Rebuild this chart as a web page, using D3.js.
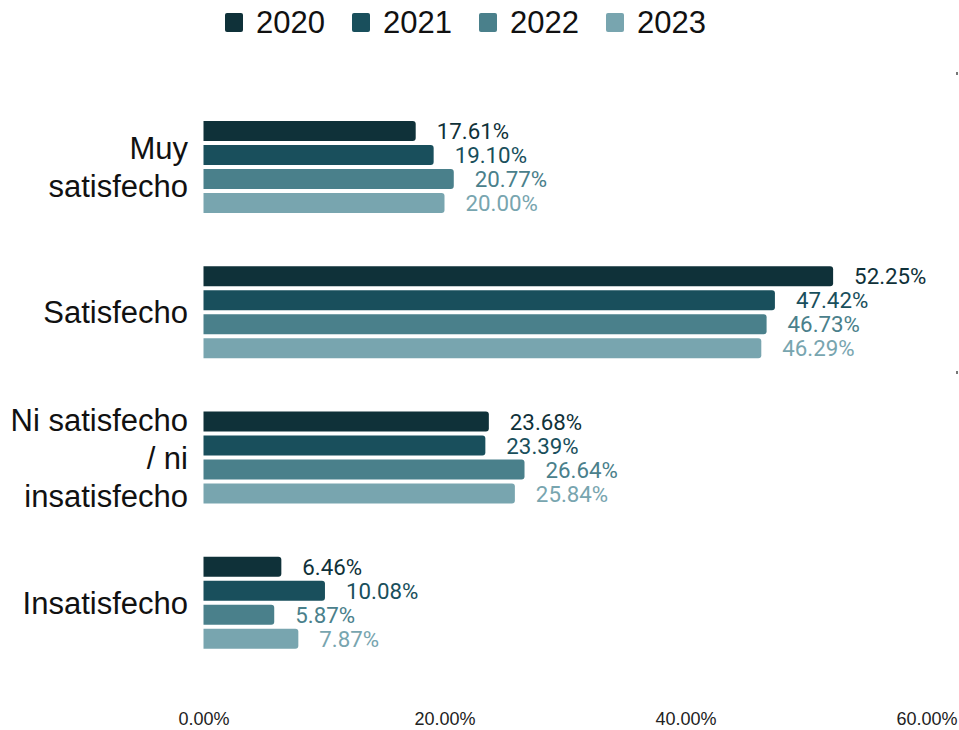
<!DOCTYPE html>
<html>
<head>
<meta charset="utf-8">
<script src="https://cdn.jsdelivr.net/npm/d3@7"></script>
<style>
  html, body { margin: 0; padding: 0; background: #fff; }
  svg { display: block; }
</style>
</head>
<body>
<svg id="chart" width="959" height="730"></svg>
<script>
const categories = ["Muy satisfecho", "Satisfecho", "Ni satisfecho / ni insatisfecho", "Insatisfecho"];
const categoryLines = [["Muy", "satisfecho"], ["Satisfecho"], ["Ni satisfecho", "/ ni", "insatisfecho"], ["Insatisfecho"]];
const years = ["2020", "2021", "2022", "2023"];
const values2020 = [17.61, 52.25, 23.68, 6.46];
const values2021 = [19.10, 47.42, 23.39, 10.08];
const values2022 = [20.77, 46.73, 26.64, 5.87];
const values2023 = [20.00, 46.29, 25.84, 7.87];
const tickValues = [0, 20, 40, 60];
const tickLabels = ["0.00%", "20.00%", "40.00%", "60.00%"];
const colors = ["#0f3139", "#194f5c", "#4a808b", "#78a5af"];

const seriesValues = [values2020, values2021, values2022, values2023];
const data = categories.map((c, i) => ({
  category: c,
  lines: categoryLines[i],
  values: years.map((y, j) => ({ year: y, value: seriesValues[j][i], idx: j }))
}));

const svg = d3.select("#chart");

const x = d3.scaleLinear().domain([0, 60]).range([203.5, 926.5]);
const y0 = d3.scaleBand().domain(categories).range([94.3, 675.5]).paddingInner(0.367).paddingOuter(0.1835);
const y1 = d3.scaleBand().domain(years).range([0, y0.bandwidth()]).paddingInner(0.167).paddingOuter(0);
const color = d3.scaleOrdinal().domain(years).range(colors);

function barPath(x0, x1, yTop, h, r) {
  const w = x1 - x0;
  r = Math.min(r, w / 2, h / 2);
  return `M${x0},${yTop}H${x1 - r}Q${x1},${yTop} ${x1},${yTop + r}V${yTop + h - r}Q${x1},${yTop + h} ${x1 - r},${yTop + h}H${x0}Z`;
}

// Legend
const legend = svg.append("g").attr("class", "legend");
const legendX = d3.scaleBand().domain(years).range([225, 733]);
years.forEach(yr => {
  const g = legend.append("g").attr("transform", `translate(${legendX(yr)},0)`);
  g.append("rect").attr("x", 0).attr("y", 13).attr("width", 18).attr("height", 19).attr("rx", 2)
    .attr("fill", color(yr));
  g.append("text").attr("x", 31).attr("y", 33)
    .attr("font-family", "Liberation Sans, Arial, sans-serif").attr("font-size", 31)
    .attr("fill", "#111").text(yr);
});

// Groups
const groups = svg.append("g").selectAll("g.grp").data(data).join("g")
  .attr("class", "grp")
  .attr("transform", d => `translate(0,${y0(d.category)})`);

groups.selectAll("path.bar").data(d => d.values).join("path")
  .attr("class", "bar")
  .attr("d", d => barPath(x(0), x(d.value), y1(d.year), y1.bandwidth(), 3))
  .attr("fill", d => color(d.year));

groups.selectAll("text.val").data(d => d.values).join("text")
  .attr("class", "val")
  .attr("x", d => x(d.value) + 21)
  .attr("y", d => y1(d.year) + y1.bandwidth() / 2)
  .attr("dy", "0.36em")
  .attr("font-family", "Roboto, sans-serif")
  .attr("font-size", 22.3)
  .attr("fill", d => color(d.year))
  .text(d => d.value.toFixed(2) + "%");

// Category labels
const lineH = 38;
groups.append("text")
  .attr("text-anchor", "end")
  .attr("font-family", "Liberation Sans, Arial, sans-serif")
  .attr("font-size", 31)
  .attr("fill", "#111")
  .each(function(d) {
    const n = d.lines.length;
    const mid = y0.bandwidth() / 2;
    const first = mid - (n - 1) * lineH / 2 + 11;
    d3.select(this).selectAll("tspan").data(d.lines).join("tspan")
      .attr("x", 188)
      .attr("y", (t, i) => first + i * lineH)
      .text(t => t);
  });

// X axis
const axis = d3.axisBottom(x).tickValues(tickValues).tickFormat((d, i) => tickLabels[i]).tickSize(0).tickPadding(0);
const ax = svg.append("g").attr("transform", "translate(0,715)").call(axis);
ax.select(".domain").remove();
ax.selectAll("text")
  .attr("font-family", "Liberation Sans, Arial, sans-serif")
  .attr("font-size", 18)
  .attr("fill", "#222")
  .attr("dy", "0.71em")
  .attr("y", -3);

// Small edge marks at the right border
svg.append("g").selectAll("rect").data([72, 371]).join("rect")
  .attr("x", 956).attr("y", d => d).attr("width", 2).attr("height", 3).attr("fill", "#777");
</script>
</body>
</html>
